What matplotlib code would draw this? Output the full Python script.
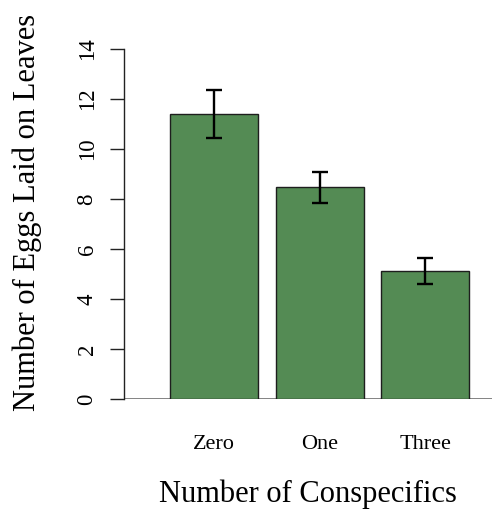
import matplotlib
matplotlib.use("Agg")
import matplotlib.pyplot as plt

# Eggs laid on leaves by number of conspecifics present (mean ± SE)
groups = ["Zero", "One", "Three"]
mean_eggs = [11.4, 8.47, 5.11]
se_eggs = [0.97, 0.62, 0.52]
y_ticks = [0, 2, 4, 6, 8, 10, 12, 14]

plt.rcParams["font.family"] = ["Liberation Serif", "DejaVu Serif"]

W, H = 492, 513
fig = plt.figure(figsize=(W / 100, H / 100), dpi=100)
ax = fig.add_axes([124 / W, 1 - 399 / H, (W - 124) / W, 350 / H])

# barplot-style layout: width 1, space 0.2
centers = [0.7 + 1.2 * i for i in range(len(groups))]
ax.bar(centers, mean_eggs, width=1.0, color="#548B54", edgecolor="#1e1e1e",
       linewidth=1.0, zorder=2)
ax.errorbar(centers, mean_eggs, yerr=se_eggs, fmt="none", ecolor="black",
            elinewidth=1.7, capsize=5.6, capthick=1.7, zorder=3, clip_on=False)
ax.axhline(0, color="#7a7a7a", linewidth=1.3, zorder=1)

ax.set_xlim(-0.323, 3.858)
ax.set_ylim(0, 14)

for side in ("top", "right", "bottom"):
    ax.spines[side].set_visible(False)
ax.spines["left"].set_color("#222222")
ax.spines["left"].set_linewidth(1.0)

ax.set_yticks(y_ticks)
ax.set_yticklabels([str(t) for t in y_ticks], rotation=90, va="center",
                   fontsize=16.5)
ax.tick_params(axis="y", length=10, width=1.0, color="#222222", pad=9)

ax.set_xticks(centers)
ax.set_xticklabels(groups, fontsize=16)
ax.tick_params(axis="x", length=0, pad=26)

fig.text(308 / W, 1 - 494 / H, "Number of Conspecifics", fontsize=22,
         ha="center", va="center")
fig.text(27 / W, 1 - 212 / H, "Number of Eggs Laid on Leaves", fontsize=22,
         ha="center", va="center", rotation=90)

fig.savefig("out.png", dpi=100)
